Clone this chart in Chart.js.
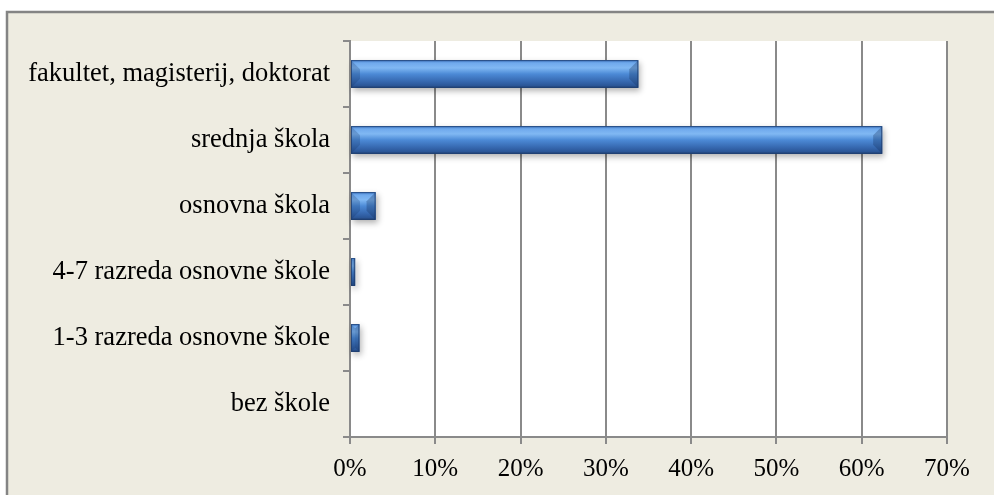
<!DOCTYPE html>
<html>
<head>
<meta charset="utf-8">
<script src="https://cdn.jsdelivr.net/npm/chart.js@4"></script>
<style>
html,body{margin:0;padding:0;background:#fff;}
#wrap{position:absolute;left:0;top:0;width:994px;height:495px;}
</style>
</head>
<body>
<div id="wrap"><canvas id="c" width="994" height="495"></canvas></div>
<script>
const categories = ["fakultet, magisterij, doktorat", "srednja škola", "osnovna škola", "4-7 razreda osnovne škole", "1-3 razreda osnovne škole", "bez škole"];
const shares = [33.8, 62.4, 3.0, 0.6, 1.1, 0];
const tickValues = [0, 10, 20, 30, 40, 50, 60, 70];

const FONT = "'Liberation Serif', 'Times New Roman', serif";
const BAR_PCT = 0.42;

function barGradient(ctx) {
  const chart = ctx.chart;
  const ys = chart.scales && chart.scales.y;
  if (!ys || ys.top === undefined || !chart.chartArea) return '#3f76bb';
  const band = (ys.bottom - ys.top) / categories.length;
  const cy = ys.getPixelForValue(ctx.dataIndex);
  const h = band * BAR_PCT / 2;
  const g = chart.ctx.createLinearGradient(0, cy - h, 0, cy + h);
  g.addColorStop(0, '#3f78c4');
  g.addColorStop(0.1, '#6fa9ec');
  g.addColorStop(0.28, '#80b8f3');
  g.addColorStop(0.5, '#4c8ad6');
  g.addColorStop(0.78, '#3567ae');
  g.addColorStop(0.92, '#2b5697');
  g.addColorStop(1, '#1f3f70');
  return g;
}

const framePlugin = {
  id: 'frame',
  beforeDraw(chart) {
    const c = chart.ctx;
    c.save();
    c.fillStyle = '#ffffff';
    c.fillRect(0, 0, chart.width, chart.height);
    c.fillStyle = '#eeece1';
    c.fillRect(7, 12, chart.width - 7, chart.height - 12);
    const a = chart.chartArea;
    c.fillStyle = '#ffffff';
    c.fillRect(a.left, a.top, a.right - a.left, a.bottom - a.top);
    c.strokeStyle = '#848484';
    c.lineWidth = 2.5;
    c.beginPath();
    c.moveTo(7, chart.height);
    c.lineTo(7, 12);
    c.lineTo(chart.width, 12);
    c.stroke();
    c.restore();
  }
};

const bevelPlugin = {
  id: 'bevel',
  beforeDatasetsDraw(chart) {
    const c = chart.ctx;
    const meta = chart.getDatasetMeta(0);
    c.save();
    meta.data.forEach((el) => {
      const p = el.getProps(['x', 'y', 'base', 'height'], true);
      const x0 = Math.min(p.base, p.x), x1 = Math.max(p.base, p.x);
      if (x1 - x0 < 0.5) return;
      c.shadowColor = 'rgba(0,0,0,0.3)';
      c.shadowBlur = 6;
      c.shadowOffsetX = 2;
      c.shadowOffsetY = 3;
      c.fillStyle = '#2f5f9f';
      c.fillRect(x0, p.y - p.height / 2, x1 - x0, p.height);
    });
    c.restore();
  },
  afterDatasetsDraw(chart) {
    const c = chart.ctx;
    const meta = chart.getDatasetMeta(0);
    c.save();
    meta.data.forEach((el) => {
      const p = el.getProps(['x', 'y', 'base', 'height'], true);
      const x0 = Math.min(p.base, p.x), x1 = Math.max(p.base, p.x);
      const y0 = p.y - p.height / 2, y1 = p.y + p.height / 2;
      const w = x1 - x0;
      if (w < 0.5) return;
      const b = Math.min(9, w / 2, p.height / 2);
      c.fillStyle = 'rgba(20,45,90,0.3)';
      c.beginPath();
      c.moveTo(x1 - b, y0 + b); c.lineTo(x1, y0); c.lineTo(x1, y1); c.lineTo(x1 - b, y1 - b); c.closePath();
      c.fill();
      c.fillStyle = 'rgba(20,45,90,0.22)';
      c.beginPath();
      c.moveTo(x0 + b, y0 + b); c.lineTo(x0, y0); c.lineTo(x0, y1); c.lineTo(x0 + b, y1 - b); c.closePath();
      c.fill();
      c.strokeStyle = 'rgba(30,60,110,0.75)';
      c.lineWidth = 1;
      c.strokeRect(x0 + 0.5, y0 + 0.5, w - 1, p.height - 1);
    });
    c.restore();
  }
};

new Chart(document.getElementById('c'), {
  type: 'bar',
  data: {
    labels: categories,
    datasets: [{
      data: shares,
      backgroundColor: barGradient,
      borderWidth: 0,
      barPercentage: BAR_PCT,
      categoryPercentage: 1.0
    }]
  },
  options: {
    indexAxis: 'y',
    responsive: false,
    animation: false,
    events: [],
    layout: { padding: { left: 0, top: 41, right: 47, bottom: 0 } },
    plugins: { legend: { display: false }, tooltip: { enabled: false } },
    scales: {
      x: {
        type: 'linear',
        min: 0, max: 70,
        afterBuildTicks(scale) { scale.ticks = tickValues.map(v => ({ value: v })); },
        afterFit(scale) { scale.height = 58; },
        ticks: {
          callback: (v) => v + '%',
          color: '#000',
          padding: 10,
          maxRotation: 0,
          font: { family: FONT, size: 25 }
        },
        grid: { color: '#8a8a8a', lineWidth: 2, tickLength: 7, drawTicks: true },
        border: { color: '#8a8a8a', width: 2 }
      },
      y: {
        type: 'category',
        afterFit(scale) { scale.width = 350; },
        ticks: {
          color: '#000',
          padding: 13,
          font: { family: FONT, size: 26.5 }
        },
        grid: { drawOnChartArea: false, color: '#8a8a8a', lineWidth: 2, tickLength: 7, offset: true },
        border: { color: '#8a8a8a', width: 2 }
      }
    }
  },
  plugins: [framePlugin, bevelPlugin]
});
</script>
</body>
</html>
